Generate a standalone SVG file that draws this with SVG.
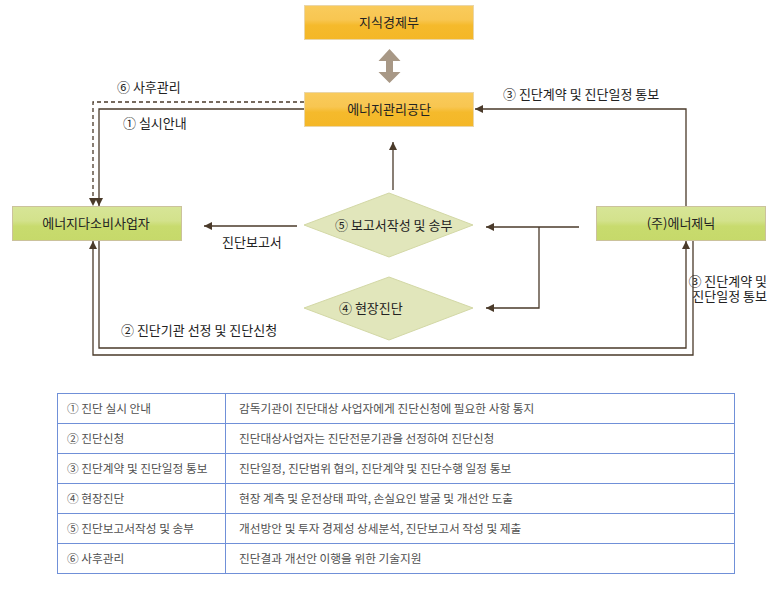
<svg xmlns="http://www.w3.org/2000/svg" width="771" height="601" viewBox="0 0 771 601">
<defs>
<linearGradient id="gOr" x1="0" y1="0" x2="0" y2="1">
<stop offset="0" stop-color="#f9cb5c"/>
<stop offset="0.42" stop-color="#f8c651"/>
<stop offset="0.58" stop-color="#f5ba2c"/>
<stop offset="1" stop-color="#f4b727"/>
</linearGradient>
<linearGradient id="gGr" x1="0" y1="0" x2="0" y2="1">
<stop offset="0" stop-color="#d7e597"/>
<stop offset="0.42" stop-color="#d3e28c"/>
<stop offset="0.58" stop-color="#c8db6e"/>
<stop offset="1" stop-color="#c6d96a"/>
</linearGradient>
<marker id="ah" markerUnits="userSpaceOnUse" markerWidth="8" markerHeight="8" refX="8" refY="4" orient="auto">
<path d="M0,0 L8,4 L0,8 z" fill="#4a3a2a"/>
</marker>
<style>
.lbl{font-family:"Noto Sans CJK KR","Noto Sans",sans-serif;font-size:13px;fill:#222}
.box{font-family:"Noto Sans CJK KR","Noto Sans",sans-serif;font-size:13px;fill:#222;text-anchor:middle}
.tb{font-family:"Noto Sans CJK KR","Noto Sans",sans-serif;font-size:11.7px;fill:#505050}
.ln{fill:none;stroke:#4a3a2a;stroke-width:1.3}
.or{fill:url(#gOr);stroke:#ead6a8;stroke-width:1}
.gr{fill:url(#gGr);stroke:#cbc29c;stroke-width:1}
.dm{fill:#e1e6bb;stroke:#d3d8a6;stroke-width:1}
.tl{stroke:#7090d8;stroke-width:1;fill:none}
</style>
</defs>
<rect width="771" height="601" fill="#ffffff"/>

<g id="connectors">
<path class="ln" d="M304,102 H93 V206" stroke-dasharray="4,3" marker-end="url(#ah)"/>
<path class="ln" d="M304,109 H99 V206" marker-end="url(#ah)"/>
<path class="ln" d="M393,190 V142" marker-end="url(#ah)"/>
<path class="ln" d="M297,226 H204" marker-end="url(#ah)"/>
<path class="ln" d="M579,227 H486" marker-end="url(#ah)"/>
<path class="ln" d="M539,227 V308 H486" marker-end="url(#ah)"/>
<path class="ln" d="M686,206 V109 H475" marker-end="url(#ah)"/>
<path class="ln" d="M99,240 V348 H686 V241" marker-end="url(#ah)"/>
<path class="ln" d="M693,240 V355 H93 V241" marker-end="url(#ah)"/>
<polygon points="389.5,49 400.5,61 393,61 393,72 400.5,72 389.5,83 378.5,72 386,72 386,61 378.5,61" fill="#a89886"/>
<text class="lbl" x="117" y="92">⑥ 사후관리</text>
<text class="lbl" x="123" y="128">① 실시안내</text>
<text class="lbl" x="222" y="247">진단보고서</text>
<text class="lbl" x="121" y="335">② 진단기관 선정 및 진단신청</text>
<text class="lbl" x="503" y="99">③ 진단계약 및 진단일정 통보</text>
<text class="lbl" x="767" y="286" text-anchor="end" font-size="12.5">③ 진단계약 및</text>
<text class="lbl" x="767" y="301" text-anchor="end" font-size="12.5">진단일정 통보</text>
</g>

<g id="node-mke">
<rect class="or" x="304.5" y="5.5" width="169" height="34"/>
<text class="box" x="389" y="27">지식경제부</text>
</g>
<g id="node-kemco">
<rect class="or" x="304.5" y="92.5" width="169" height="34"/>
<text class="box" x="389" y="114">에너지관리공단</text>
</g>
<g id="node-user">
<rect class="gr" x="12.5" y="206.5" width="169" height="34"/>
<text class="box" x="96" y="228">에너지다소비사업자</text>
</g>
<g id="node-enerzenic">
<rect class="gr" x="596.5" y="206.5" width="169" height="34"/>
<text class="box" x="681" y="228">(주)에너제닉</text>
</g>
<g id="node-report">
<polygon class="dm" points="304,225 389,193 473,225 389,257"/>
<text class="lbl" x="335" y="230">⑤ 보고서작성 및 송부</text>
</g>
<g id="node-site">
<polygon class="dm" points="304,308 389,277 473,308 389,340"/>
<text class="lbl" x="339" y="313">④ 현장진단</text>
</g>

<g id="table">
<rect class="tl" x="57.5" y="393.5" width="677" height="180"/>
<line class="tl" x1="225.5" y1="393.5" x2="225.5" y2="573.5"/>
<line class="tl" x1="57.5" y1="423.5" x2="734.5" y2="423.5"/>
<line class="tl" x1="57.5" y1="453.5" x2="734.5" y2="453.5"/>
<line class="tl" x1="57.5" y1="483.5" x2="734.5" y2="483.5"/>
<line class="tl" x1="57.5" y1="513.5" x2="734.5" y2="513.5"/>
<line class="tl" x1="57.5" y1="543.5" x2="734.5" y2="543.5"/>
<text class="tb" x="67" y="412.5">① 진단 실시 안내</text>
<text class="tb" x="239" y="412.5">감독기관이 진단대상 사업자에게 진단신청에 필요한 사항 통지</text>
<text class="tb" x="67" y="442.5">② 진단신청</text>
<text class="tb" x="239" y="442.5">진단대상사업자는 진단전문기관을 선정하여 진단신청</text>
<text class="tb" x="67" y="472.5">③ 진단계약 및 진단일정 통보</text>
<text class="tb" x="239" y="472.5">진단일정, 진단범위 협의, 진단계약 및 진단수행 일정 통보</text>
<text class="tb" x="67" y="502.5">④ 현장진단</text>
<text class="tb" x="239" y="502.5">현장 계측 및 운전상태 파악, 손실요인 발굴 및 개선안 도출</text>
<text class="tb" x="67" y="532.5">⑤ 진단보고서작성 및 송부</text>
<text class="tb" x="239" y="532.5">개선방안 및 투자 경제성 상세분석, 진단보고서 작성 및 제출</text>
<text class="tb" x="67" y="562.5">⑥ 사후관리</text>
<text class="tb" x="239" y="562.5">진단결과 개선안 이행을 위한 기술지원</text>
</g>
</svg>
